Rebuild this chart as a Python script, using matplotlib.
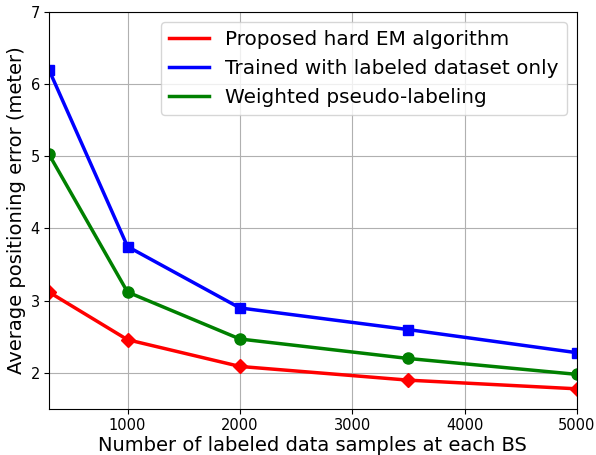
import matplotlib

matplotlib.use("Agg")
import matplotlib.pyplot as plt
from matplotlib.lines import Line2D

# labeled samples per BS
n_labeled = [300, 1000, 2000, 3500, 5000]

# average positioning error (meter)
err_hard_em = [3.12, 2.46, 2.09, 1.90, 1.78]
err_labeled_only = [6.20, 3.75, 2.90, 2.60, 2.28]
err_pseudo = [5.03, 3.12, 2.47, 2.20, 1.98]

labels = [
    "Proposed hard EM algorithm",
    "Trained with labeled dataset only",
    "Weighted pseudo-labeling",
]
colors = ["red", "blue", "green"]

fig = plt.figure(figsize=(5.96, 4.55), dpi=100)
ax = fig.add_axes([0.082, 0.101, 0.886, 0.873])

ax.plot(n_labeled, err_hard_em, color=colors[0], lw=2.5, marker="D", ms=7)
ax.plot(n_labeled, err_labeled_only, color=colors[1], lw=2.5, marker="s", ms=7)
ax.plot(n_labeled, err_pseudo, color=colors[2], lw=2.5, marker="o", ms=8)

ax.set_xlim(300, 5000)
ax.set_ylim(1.5, 7)
ax.set_xticks([1000, 2000, 3000, 4000, 5000])
ax.set_yticks([2, 3, 4, 5, 6, 7])
ax.tick_params(labelsize=10.5, pad=3)
ax.grid(True, color="#b0b0b0", lw=0.8)

ax.set_xlabel("Number of labeled data samples at each BS", fontsize=14, labelpad=2)
ax.set_ylabel("Average positioning error (meter)", fontsize=14, labelpad=3)

handles = [Line2D([], [], color=c, lw=2.5) for c in colors]
ax.legend(handles, labels, loc="upper right", fontsize=14.4, handlelength=2.0,
          borderaxespad=0.5)

fig.savefig("out.png", dpi=100)
